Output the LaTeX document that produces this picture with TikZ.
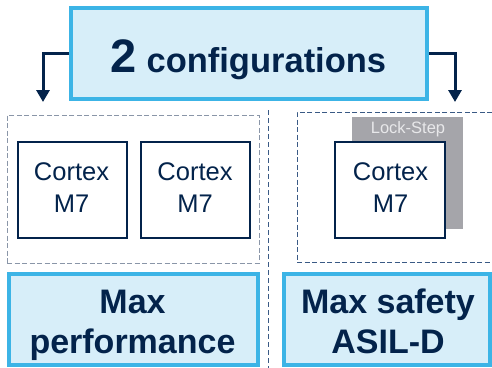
\documentclass[tikz,border=0pt]{standalone}
\usepackage{fontspec}
\setmainfont{Liberation Sans}
\usetikzlibrary{arrows.meta}
\definecolor{navy}{HTML}{03234B}
\definecolor{stblue}{HTML}{3CB4E6}
\definecolor{lightfill}{HTML}{D7EEF9}
\definecolor{lsgray}{HTML}{A5A5AA}
\definecolor{lstext}{HTML}{E8E8EA}
\definecolor{dashgray}{HTML}{8A96A8}
\definecolor{dashnavy}{HTML}{3A5A85}
\tikzset{
  bluebox/.style={draw=stblue, fill=lightfill, line width=4pt, inner sep=0pt},
  dashgrp/.style={draw=#1, line width=1pt, dash pattern=on 5pt off 2.5pt, inner sep=0pt},
  cpubox/.style={draw=navy, fill=white, line width=2pt, inner sep=0pt, minimum height=96pt},
  cputext/.style={text=navy, font=\fontsize{25.5}{32}\selectfont, align=center, anchor=base, inner sep=0pt},
  labeltext/.style={text=navy, font=\bfseries\fontsize{34}{40.5}\selectfont, align=center, anchor=base, inner sep=0pt},
  arr/.style={draw=navy, line width=3pt, -{Triangle[width=13pt,length=12pt]}},
}
\begin{document}
\begin{tikzpicture}[x=1pt,y=-1pt]
\useasboundingbox (0,0) rectangle (492,367);
\clip (0,0) rectangle (492,367);

% top box
\node[bluebox, minimum width=356pt, minimum height=91pt] (cfg) at (249,53.5) {};
\node[text=navy, anchor=base, inner sep=0pt, font=\bfseries\fontsize{34.5}{40}\selectfont] (cfgt) at (248.5,72) {{\fontsize{47}{50}\selectfont 2} configurations};

% arrows
\coordinate (ltip) at (43,102);
\coordinate (rtip) at (455,102);
\draw[arr] (cfg.west) -| (ltip);
\draw[arr] (cfg.east) -| (rtip);

% separator
\coordinate (sepa) at (268,110);
\coordinate (sepb) at (268,368);
\draw[dashnavy, line width=1pt, dash pattern=on 5pt off 3pt] (sepa) -- (sepb);

% dashed groups
\node[dashgrp=dashgray, minimum width=252pt, minimum height=148pt] (lgrp) at (133,189) {};
\node[dashgrp=dashnavy, minimum width=210pt, minimum height=150pt] (rgrp) at (402,187) {};

% left cores
\node[cpubox, minimum width=109pt] (c1) at (72.5,190) {};
\node[cputext] (c1t) at (71.5,212) {Cortex\\M7};
\node[cpubox, minimum width=109pt] (c2) at (195.5,190) {};
\node[cputext] (c2t) at (195,212) {Cortex\\M7};

% lock-step
\node[fill=lsgray, inner sep=0pt, minimum width=111pt, minimum height=112pt] (ls) at (407.5,173) {};
\node[text=lstext, anchor=base, inner sep=0pt, font=\fontsize{16.5}{20}\selectfont] (lst) at (408,133) {Lock-Step};
\node[cpubox, minimum width=110pt] (c3) at (390,190) {};
\node[cputext] (c3t) at (390.5,212) {Cortex\\M7};

% bottom labels
\node[bluebox, minimum width=249pt, minimum height=91pt] (perf) at (133.5,319.5) {};
\node[labeltext] (perft) at (132.5,353.5) {Max\\performance};
\node[bluebox, minimum width=206pt, minimum height=91pt] (safe) at (387,319.5) {};
\node[labeltext] (safet) at (388,353.5) {Max safety\\ASIL-D};
\end{tikzpicture}
\end{document}
